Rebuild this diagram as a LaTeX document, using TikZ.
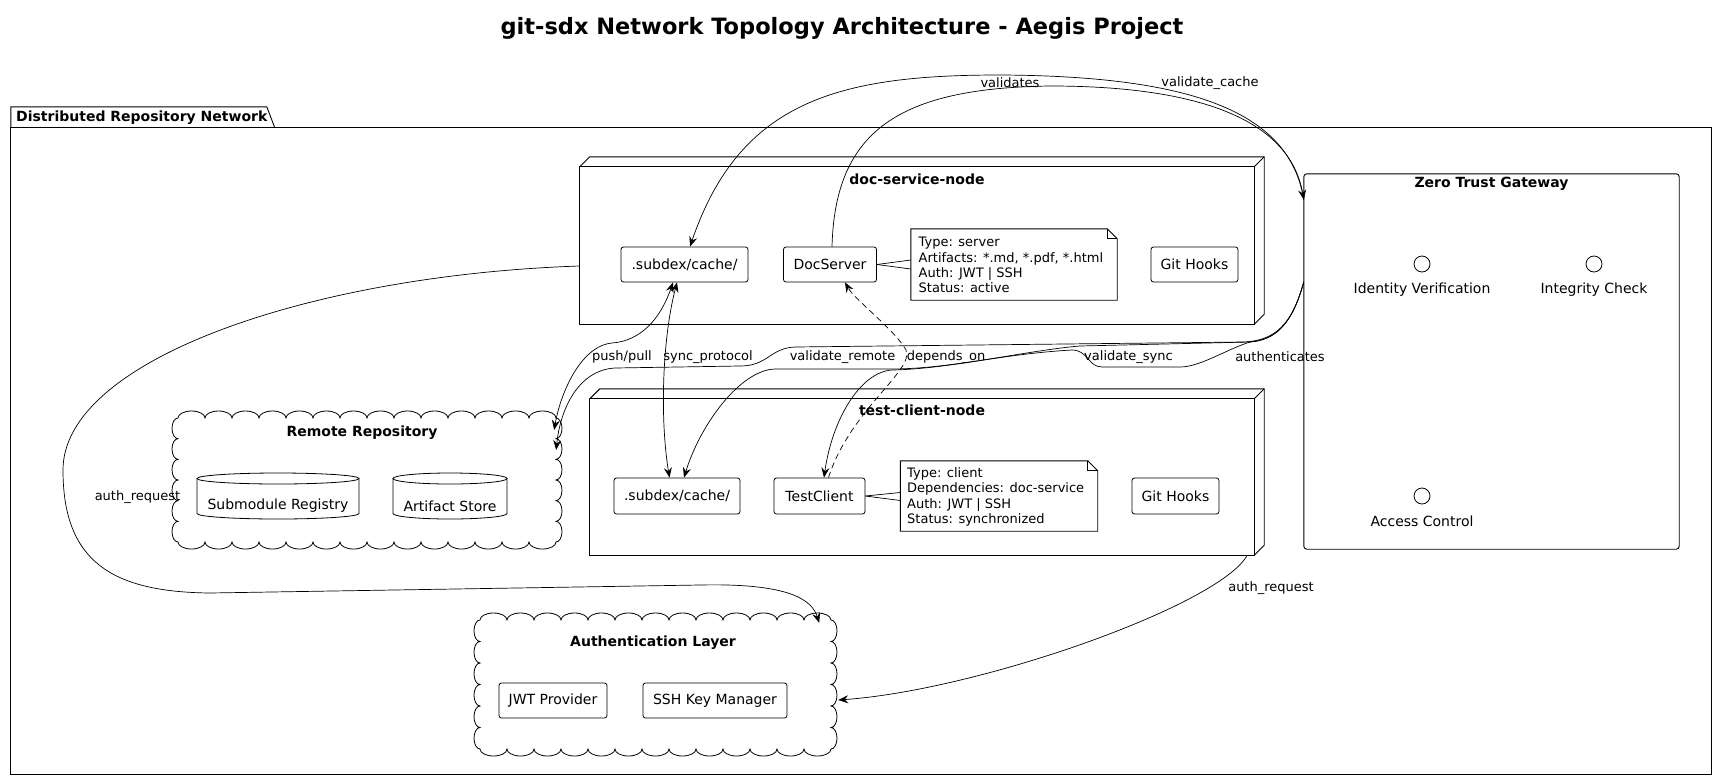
\documentclass[tikz,border=0pt]{standalone}
\usepackage{fontspec}
\setmainfont{DejaVu Sans}
\usetikzlibrary{arrows.meta,calc}
\newcommand{\scallopCloud}[6]{%
\draw[line width=0.8pt] (#1,#2)
 \foreach \k in {1,...,#3}{ arc[start angle=180,end angle=360,x radius=#4,y radius=7] }
 \foreach \k in {1,...,#5}{ arc[start angle=-90,end angle=90,x radius=6,y radius=#6] }
 \foreach \k in {1,...,#3}{ arc[start angle=0,end angle=180,x radius=#4,y radius=7] }
 \foreach \k in {1,...,#5}{ arc[start angle=90,end angle=270,x radius=6,y radius=#6] } -- cycle;
}
\begin{document}
\begin{tikzpicture}[x=1pt,y=-1pt,
  comp/.style={draw,line width=0.8pt,rounded corners=2.5pt,inner sep=0pt,font=\fontsize{14}{16}\selectfont},
  lbl/.style={font=\fontsize{13}{15}\selectfont,inner sep=0pt},
  ttl/.style={font=\bfseries\fontsize{14}{16}\selectfont,inner sep=0pt},
  notetxt/.style={font=\fontsize{13}{15.2}\selectfont,inner sep=0pt,align=left,anchor=west},
  ghost/.style={draw=none,inner sep=0pt},
  frame/.style={line width=0.9pt},
  conn/.style={line width=0.7pt},
  tip/.tip={Stealth[length=10pt,width=8pt,inset=3.5pt]},
  arr/.style={conn,-tip},
  darr/.style={conn,tip-tip}
]
\useasboundingbox (0,0) rectangle (1717,780);

% title
\node[font=\bfseries\fontsize{22.5}{26}\selectfont,inner sep=0pt] (title) at (842,28) {git-sdx Network Topology Architecture - Aegis Project};

% package
\node[ghost,minimum width=1700pt,minimum height=646pt] (pkg) at (861,451) {};
\draw[frame] (pkg.north west) rectangle (pkg.south east);
\draw[frame] (pkg.north west) -- ++(0,-21) -- ++(256,0) -- ++(8,21);
\node[ttl,anchor=west] (pkgtitle) at (16,118) {Distributed Repository Network};

% doc-service-node
\node[ghost,minimum width=674pt,minimum height=157pt] (docNode) at (917,245.5) {};
\draw[frame] (docNode.north west) rectangle (docNode.south east);
\draw[frame] (docNode.north west) -- ++(10,-10) -- ($(docNode.north east)+(10,-10)$) -- ($(docNode.south east)+(10,-10)$) -- (docNode.south east);
\draw[frame] (docNode.north east) -- ++(10,-10);
\node[ttl] (docTitle) at (917,179) {doc-service-node};

\node[comp,minimum width=127pt,minimum height=35pt] (docCache) at (684.5,264.5) {.subdex/cache/};
\node[comp,minimum width=93pt,minimum height=35pt] (docServer) at (830,264.5) {DocServer};
\node[comp,minimum width=87pt,minimum height=35pt] (docHooks) at (1194.5,264.5) {Git Hooks};

\node[ghost,minimum width=206pt,minimum height=71pt] (docNote) at (1014,264.5) {};
\draw[frame] (docNote.north west) -- ($(docNote.north east)+(-10,0)$) -- ($(docNote.north east)+(0,10)$) -- (docNote.south east) -- (docNote.south west) -- cycle;
\draw[frame] ($(docNote.north east)+(-10,0)$) -- ($(docNote.north east)+(-10,10)$) -- ($(docNote.north east)+(0,10)$);
\node[notetxt] (docNoteText) at (918.5,265) {Type: server\\Artifacts: *.md, *.pdf, *.html\\Auth: JWT | SSH\\Status: active};
\draw[conn] (docServer.east) -- ($(docNote.west)+(0,-4.5)$);
\draw[conn] (docServer.east) -- ($(docNote.west)+(0,4.5)$);

% test-client-node
\node[ghost,minimum width=664pt,minimum height=156pt] (testNode) at (922,477) {};
\draw[frame] (testNode.north west) rectangle (testNode.south east);
\draw[frame] (testNode.north west) -- ++(10,-10) -- ($(testNode.north east)+(10,-10)$) -- ($(testNode.south east)+(10,-10)$) -- (testNode.south east);
\draw[frame] (testNode.north east) -- ++(10,-10);
\node[ttl] (testTitle) at (922,410) {test-client-node};

\node[comp,minimum width=126pt,minimum height=36pt] (testCache) at (677,496) {.subdex/cache/};
\node[comp,minimum width=91pt,minimum height=36pt] (testClient) at (819.5,496) {TestClient};
\node[comp,minimum width=87pt,minimum height=36pt] (testHooks) at (1175.5,496) {Git Hooks};

\node[ghost,minimum width=197pt,minimum height=70pt] (testNote) at (999,496) {};
\draw[frame] (testNote.north west) -- ($(testNote.north east)+(-10,0)$) -- ($(testNote.north east)+(0,10)$) -- (testNote.south east) -- (testNote.south west) -- cycle;
\draw[frame] ($(testNote.north east)+(-10,0)$) -- ($(testNote.north east)+(-10,10)$) -- ($(testNote.north east)+(0,10)$);
\node[notetxt] (testNoteText) at (907,497) {Type: client\\Dependencies: doc-service\\Auth: JWT | SSH\\Status: synchronized};
\draw[conn] (testClient.east) -- ($(testNote.west)+(0,-3.5)$);
\draw[conn] (testClient.east) -- ($(testNote.west)+(0,4.5)$);

% Zero Trust Gateway
\node[ghost,minimum width=375pt,minimum height=375pt] (gateway) at (1491.5,361.5) {};
\draw[frame,rounded corners=3pt] (gateway.north west) rectangle (gateway.south east);
\node[ttl] (gwTitle) at (1491.5,184) {Zero Trust Gateway};
\node[draw,circle,line width=0.8pt,minimum size=16pt,inner sep=0pt] (idv) at (1422,264) {};
\node[lbl,font=\fontsize{14}{16}\selectfont] (idvL) at (1422,290) {Identity Verification};
\node[draw,circle,line width=0.8pt,minimum size=16pt,inner sep=0pt] (intc) at (1594,264) {};
\node[lbl,font=\fontsize{14}{16}\selectfont] (intcL) at (1594,290) {Integrity Check};
\node[draw,circle,line width=0.8pt,minimum size=16pt,inner sep=0pt] (acc) at (1422,496) {};
\node[lbl,font=\fontsize{14}{16}\selectfont] (accL) at (1422,521) {Access Control};

% Remote Repository cloud
\node[ghost,minimum width=380pt,minimum height=126pt] (remoteCloud) at (367,480) {};
\scallopCloud{178}{418}{14}{13.5}{6}{10.333}
\node[ttl] (remoteTitle) at (362,433) {Remote Repository};
% cylinders
\draw[line width=0.8pt] (197,478.5) -- (197,513.5) arc[start angle=180,end angle=0,x radius=81,y radius=5.5] -- (359,478.5);
\draw[line width=0.8pt] (278,478.5) ellipse[x radius=81,y radius=5.5];
\node[lbl,font=\fontsize{14}{16}\selectfont] (subreg) at (278,506) {Submodule Registry};
\draw[line width=0.8pt] (393,478.5) -- (393,513.5) arc[start angle=180,end angle=0,x radius=57,y radius=5.5] -- (507,478.5);
\draw[line width=0.8pt] (450,478.5) ellipse[x radius=57,y radius=5.5];
\node[lbl,font=\fontsize{14}{16}\selectfont] (artstore) at (450,506) {Artifact Store};

% Authentication Layer cloud
\node[ghost,minimum width=353pt,minimum height=131pt] (authCloud) at (655.5,684.5) {};
\scallopCloud{480}{620}{13}{13.5}{6}{10.75}
\node[ttl] (authTitle) at (653,643) {Authentication Layer};
\node[comp,minimum width=108pt,minimum height=35pt] (jwt) at (553,700.5) {JWT Provider};
\node[comp,minimum width=144pt,minimum height=35pt] (ssh) at (715,700.5) {SSH Key Manager};

% connectors
\coordinate (gwIn) at ($(gateway.north west)+(0,26)$);
\coordinate (gwOut) at ($(gateway.north west)+(0,108)$);

\draw[arr] (gwIn) .. controls (1290,115) and (1200,76) .. (1000,75) .. controls (840,75) and (740,100) .. ($(docCache.north)+(5.5,0)$);
\node[lbl] (l1) at (1010,83) {validates};

\draw[arr] ($(docServer.north)+(2,0)$) .. controls (835,130) and (900,88) .. (1050,86) .. controls (1200,86) and (1290,120) .. (gwIn);
\node[lbl] (l2) at (1210,83) {validate\_cache};

\draw[darr] ($(docCache.south)+(-11.5,0)$) .. controls (660,320) and (640,341) .. (612,343) .. controls (580,346) and (560,395) .. ($(remoteCloud.east)+(-3,-50)$);
\node[lbl] (l3) at (622,357) {push/pull};

\draw[darr] ($(docCache.south)+(-7.5,0)$) .. controls (662,340) and (660,420) .. ($(testCache.north)+(-7.5,0)$);
\node[lbl] (l4) at (708,357) {sync\_protocol};

\draw[arr] (gwOut) .. controls (1292,325) and (1275,340) .. (1245,342) -- (795,347) .. controls (770,348) and (768,366) .. (740,366) -- (615,368) .. controls (578,370) and (560,410) .. ($(remoteCloud.east)+(-1,-30)$);
\node[lbl] (l5) at (842.5,357) {validate\_remote};

\draw[arr] (gwOut) .. controls (1292,325) and (1275,340) .. (1250,342) .. controls (1225,350) and (1200,367) .. (1180,367) -- (1102,367) .. controls (1088,367) and (1088,350) .. (1072,350) .. controls (1000,354) and (950,369) .. (890,369) -- (775,369) .. controls (740,370) and (700,425) .. ($(testCache.north)+(7,0)$);
\node[lbl] (l6) at (1128.5,357) {validate\_sync};

\draw[arr] (gwOut) .. controls (1292,325) and (1275,340) .. (1250,342) -- (1080,346) .. controls (1030,350) and (950,369) .. (892,370) .. controls (860,372) and (832,420) .. ($(testClient.north)+(4.5,0)$);
\node[lbl] (l7) at (1280,357) {authenticates};

\draw[arr,dash pattern=on 6pt off 4pt] ($(testClient.north)+(9,0)$) .. controls (850,410) and (915,370) .. (906,350) .. controls (895,330) and (855,300) .. ($(docServer.south)+(15,0)$);
\node[lbl] (l8) at (946,357) {depends\_on};

\draw[arr] ($(docNode.west)+(0,20.5)$) .. controls (310,275) and (63,360) .. (63,470) .. controls (63,560) and (110,592) .. (210,593) -- (700,585) .. controls (790,583) and (812,600) .. ($(authCloud.north east)+(-13,4)$);
\node[lbl] (l9) at (137.5,497) {auth\_request};

\draw[arr] ($(testNode.south east)+(-7,0)$) .. controls (1220,605) and (980,690) .. ($(authCloud.east)+(6,15.5)$);
\node[lbl] (l10) at (1271,588) {auth\_request};

\end{tikzpicture}
\end{document}
